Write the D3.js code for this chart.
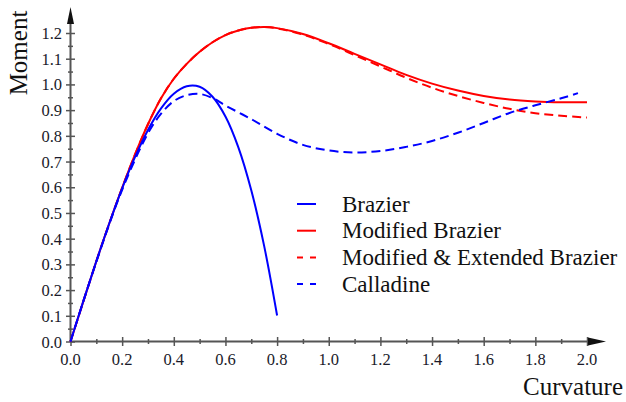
<!DOCTYPE html>
<html>
<head>
<meta charset="utf-8">
<script src="https://cdn.jsdelivr.net/npm/d3@7"></script>
<style>
  body { margin: 0; background: #fff; }
</style>
</head>
<body>
<div id="chart"></div>
<script>
// chart size
const width = 626
const height = 402
const serif = "'Liberation Serif', 'Times New Roman', serif"

// curvature / moment values
const brazierK = [0, 0.05, 0.1, 0.15, 0.2, 0.25, 0.3, 0.35, 0.4, 0.45, 0.5, 0.55, 0.6, 0.65, 0.7, 0.75, 0.8]
const brazierM = [0, 0.158, 0.312, 0.459, 0.596, 0.718, 0.823, 0.906, 0.964, 0.993, 0.991, 0.952, 0.875, 0.755, 0.588, 0.371, 0.101]

const modK = [0, 0.1, 0.15, 0.2, 0.25, 0.3, 0.35, 0.4, 0.45, 0.5, 0.55, 0.6, 0.65, 0.7, 0.75, 0.8, 0.9, 1.0, 1.1, 1.2, 1.3, 1.4, 1.5, 1.6, 1.7, 1.8, 1.9, 2.0]
const modM = [0, 0.312, 0.459, 0.598, 0.728, 0.845, 0.945, 1.022, 1.080, 1.127, 1.164, 1.192, 1.210, 1.220, 1.223, 1.219, 1.196, 1.16, 1.119, 1.078, 1.037, 1.003, 0.976, 0.955, 0.941, 0.934, 0.931, 0.931]

const extK = [0, 0.1, 0.15, 0.2, 0.25, 0.3, 0.35, 0.4, 0.45, 0.5, 0.55, 0.6, 0.65, 0.7, 0.75, 0.8, 0.9, 1.0, 1.1, 1.2, 1.3, 1.4, 1.5, 1.6, 1.7, 1.8, 1.9, 2.0]
const extM = [0, 0.312, 0.459, 0.598, 0.728, 0.845, 0.945, 1.022, 1.080, 1.127, 1.164, 1.192, 1.210, 1.220, 1.223, 1.218, 1.194, 1.157, 1.114, 1.07, 1.026, 0.987, 0.955, 0.928, 0.905, 0.888, 0.878, 0.871]

const callK = [0, 0.1, 0.2, 0.3, 0.35, 0.4, 0.45, 0.5, 0.55, 0.6, 0.7, 0.8, 0.9, 1.0, 1.1, 1.2, 1.3, 1.4, 1.5, 1.6, 1.7, 1.8, 1.9, 1.965]
const callM = [0, 0.31, 0.59, 0.81, 0.885, 0.935, 0.958, 0.963, 0.947, 0.918, 0.865, 0.808, 0.765, 0.743, 0.735, 0.741, 0.757, 0.780, 0.812, 0.850, 0.889, 0.919, 0.946, 0.966]

const seriesNames = ["Brazier", "Modified Brazier", "Modified & Extended Brazier", "Calladine"]
const seriesColors = ["#0000ff", "#ff0000", "#ff0000", "#0000ff"]
const seriesDashed = [false, false, true, true]

const xTicks = [0, 0.2, 0.4, 0.6, 0.8, 1.0, 1.2, 1.4, 1.6, 1.8, 2.0]
const yTicks = [0, 0.1, 0.2, 0.3, 0.4, 0.5, 0.6, 0.7, 0.8, 0.9, 1.0, 1.1, 1.2]

const series = [
  brazierK.map((k, i) => ({k: k, m: brazierM[i]})),
  modK.map((k, i) => ({k: k, m: modM[i]})),
  extK.map((k, i) => ({k: k, m: extM[i]})),
  callK.map((k, i) => ({k: k, m: callM[i]}))
]

const svg = d3.select("#chart")
  .append("svg")
  .attr("width", width)
  .attr("height", height)

const x = d3.scaleLinear().domain([0, 2]).range([70.5, 587])
const y = d3.scaleLinear().domain([0, 1.2]).range([341.5, 33])

const axisColor = "#555"

// x axis: ticks every 0.1, longer ones every 0.2
const xAxis = svg.append("g")
  .attr("transform", "translate(0," + y(0) + ")")
  .call(d3.axisBottom(x).tickValues(d3.range(0, 2.01, 0.1)).tickSize(4).tickFormat(""))
xAxis.select(".domain").remove()
xAxis.selectAll(".tick line")
  .attr("y1", d => Math.round(d * 10) % 2 === 0 ? -4.5 : -2.5)
  .attr("y2", d => Math.round(d * 10) % 2 === 0 ? 4.5 : 2.5)
  .attr("stroke", axisColor).attr("stroke-width", 1.5)
svg.append("line")
  .attr("x1", x(0)).attr("x2", 596)
  .attr("y1", y(0)).attr("y2", y(0))
  .attr("stroke", axisColor).attr("stroke-width", 2)
svg.append("path")
  .attr("d", "M588," + (y(0) - 4) + "L606," + y(0) + "L588," + (y(0) + 4) + "Z")
  .attr("fill", "#111")

svg.append("g")
  .selectAll("text")
  .data(xTicks)
  .join("text")
    .attr("x", d => x(d))
    .attr("y", 365)
    .attr("text-anchor", "middle")
    .attr("font-family", serif)
    .attr("font-size", 16.5)
    .attr("fill", "#1a1a2a")
    .text(d => d.toFixed(1))

// y axis: ticks every 0.05, longer ones every 0.1
const yAxis = svg.append("g")
  .attr("transform", "translate(" + x(0) + ",0)")
  .call(d3.axisLeft(y).tickValues(d3.range(0, 1.201, 0.05)).tickSize(4).tickFormat(""))
yAxis.select(".domain").remove()
yAxis.selectAll(".tick line")
  .attr("x1", d => Math.round(d * 20) % 2 === 0 ? -4.5 : -2.5)
  .attr("x2", d => Math.round(d * 20) % 2 === 0 ? 4.5 : 2.5)
  .attr("stroke", axisColor).attr("stroke-width", 1.5)
svg.append("line")
  .attr("x1", x(0)).attr("x2", x(0))
  .attr("y1", y(0)).attr("y2", 18)
  .attr("stroke", axisColor).attr("stroke-width", 2)
svg.append("path")
  .attr("d", "M" + (x(0) - 3.5) + ",24L" + x(0) + ",7L" + (x(0) + 3.5) + ",24Z")
  .attr("fill", "#111")

svg.append("g")
  .selectAll("text")
  .data(yTicks)
  .join("text")
    .attr("x", 62)
    .attr("y", d => y(d) + 6)
    .attr("text-anchor", "end")
    .attr("font-family", serif)
    .attr("font-size", 16.5)
    .attr("fill", "#1a1a2a")
    .text(d => d.toFixed(1))

// axis titles
svg.append("text")
  .attr("transform", "translate(27,53) rotate(-90)")
  .attr("text-anchor", "middle")
  .attr("font-family", serif)
  .attr("font-size", 25)
  .attr("fill", "#111")
  .text("Moment")

svg.append("text")
  .attr("x", 623)
  .attr("y", 395)
  .attr("text-anchor", "end")
  .attr("font-family", serif)
  .attr("font-size", 25)
  .attr("fill", "#111")
  .text("Curvature")

// curves
const line = d3.line()
  .x(d => x(d.k))
  .y(d => y(d.m))
  .curve(d3.curveCatmullRom.alpha(0.5))

const order = [1, 2, 0, 3]
svg.append("g")
  .selectAll("path")
  .data(order)
  .join("path")
    .attr("d", i => line(series[i]))
    .attr("fill", "none")
    .attr("stroke", i => seriesColors[i])
    .attr("stroke-width", 2)
    .attr("stroke-dasharray", i => seriesDashed[i] ? "9,5" : null)

// legend
const legend = svg.append("g")
  .selectAll("g")
  .data(seriesNames)
  .join("g")
    .attr("transform", (d, i) => "translate(297," + (204 + i * 26.7) + ")")

legend.append("line")
  .attr("x1", 0).attr("x2", 19)
  .attr("stroke", (d, i) => seriesColors[i])
  .attr("stroke-width", 2)
  .attr("stroke-dasharray", (d, i) => seriesDashed[i] ? "6,7" : null)

legend.append("text")
  .attr("x", 45)
  .attr("y", 7.5)
  .attr("font-family", serif)
  .attr("font-size", 23)
  .attr("fill", "#111")
  .text(d => d)
</script>
</body>
</html>
